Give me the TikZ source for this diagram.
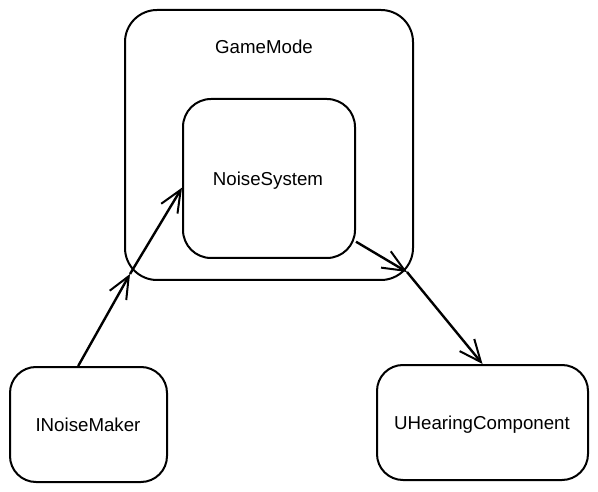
\documentclass[tikz,border=0pt]{standalone}
\usepackage{fontspec}
\setmainfont{Liberation Sans}
\usetikzlibrary{arrows.meta}
\begin{document}
\begin{tikzpicture}[x=1pt,y=-1pt,
  box/.style={draw=black,line width=2pt,rounded corners=28pt,inner sep=0pt,fill=none},
  txt/.style={font=\fontsize{18.7}{22}\selectfont,inner sep=0pt},
  arr/.style={draw=black,line width=2.4pt,-{Straight Barb[length=22pt,width=19pt,line width=2pt]}}
]
\useasboundingbox (0,0) rectangle (598,492);
\fill[white] (0,0) rectangle (598,492);
\node[box,minimum width=288pt,minimum height=270pt,rounded corners=32pt] (gm) at (269,145) {};
\node[txt] (gmtext) at (264,47) {GameMode};
\node[box,minimum width=172pt,minimum height=159pt] (ns) at (269,178.5) {};
\node[txt] (nstext) at (268,181) {NoiseSystem};
\node[box,minimum width=157pt,minimum height=115pt,rounded corners=26pt] (inm) at (88.5,424.5) {};
\node[txt] (inmtext) at (88,425) {INoiseMaker};
\node[box,minimum width=211pt,minimum height=115pt,rounded corners=26pt] (uhc) at (482.5,422.5) {};
\node[txt] (uhctext) at (482,425) {UHearingComponent};
\coordinate (j1) at (130,274);
\coordinate (j2) at (407,272);
\draw[arr] (inm.100) -- (j1);
\draw[arr] (j1) -- (ns.186);
\draw[arr] (ns.-36) -- (j2);
\draw[arr] (j2) -- (uhc.north);
\end{tikzpicture}
\end{document}
